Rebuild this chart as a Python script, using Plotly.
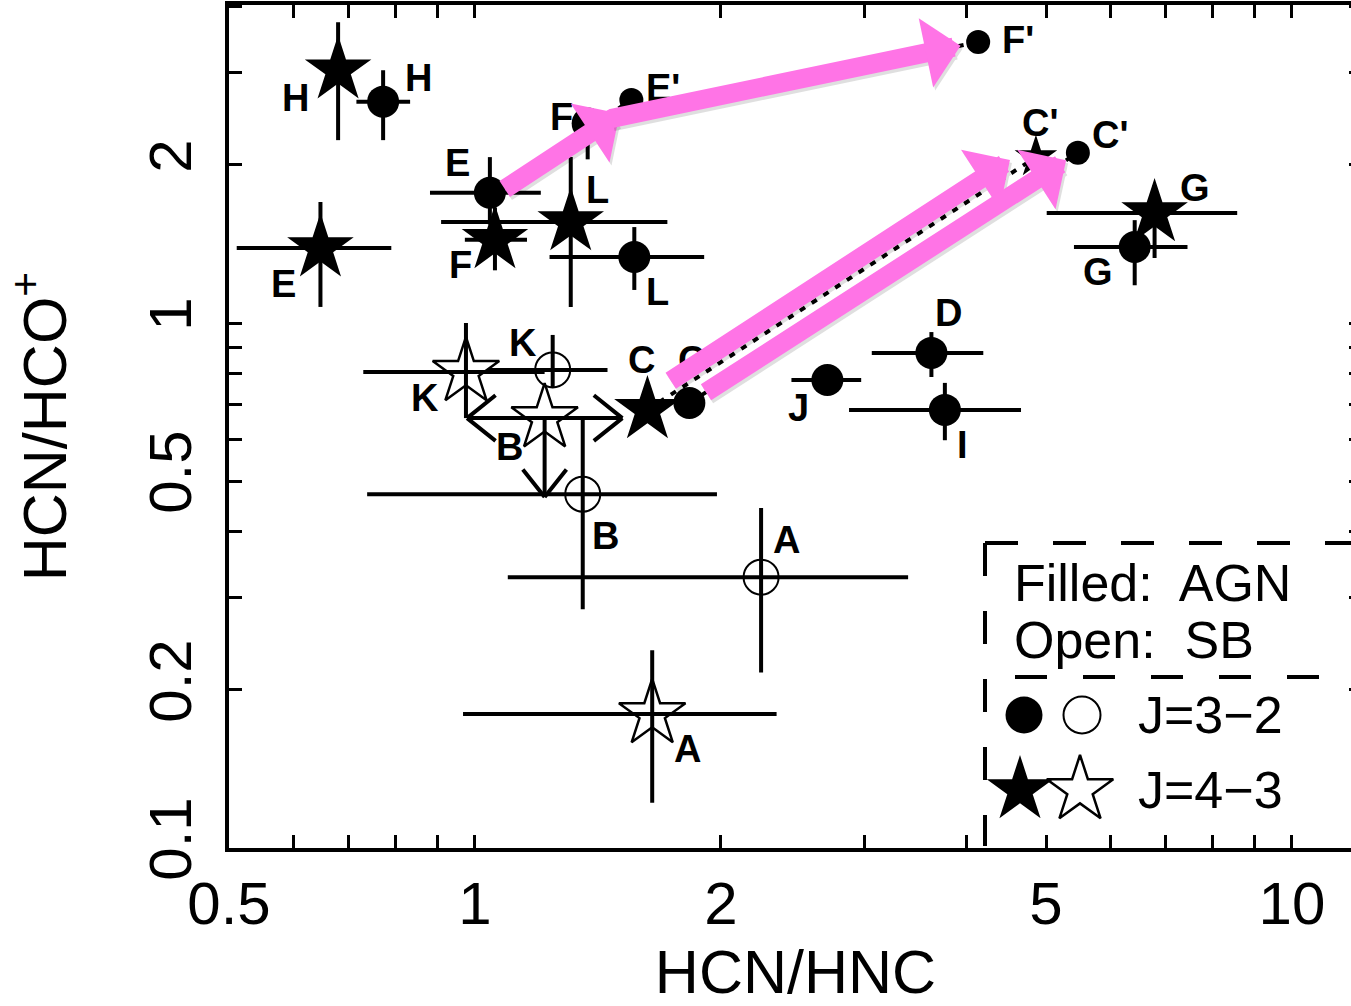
import math
import plotly.graph_objects as go

# ---------------- data ----------------
# HCN/HNC (x) and HCN/HCO+ (y) ratios, with lower/upper error-bar bounds.

# AGN, J=3-2 (filled circles)
agn32_name = ["H", "E", "F", "L", "G", "D", "J", "I", "C"]
agn32_x = [0.772, 1.043, 1.374, 1.567, 6.42, 3.62, 2.70, 3.76, 1.83]
agn32_y = [2.64, 1.77, 2.40, 1.336, 1.396, 0.877, 0.779, 0.683, 0.704]
agn32_xlo = [0.716, 0.881, 1.33, 1.234, 5.41, 3.06, 2.44, 2.87, 1.83]
agn32_xhi = [0.833, 1.204, 1.45, 1.908, 7.45, 4.19, 2.97, 4.66, 1.83]
agn32_ylo = [2.23, 1.54, 2.05, 1.156, 1.18, 0.789, 0.779, 0.598, 0.704]
agn32_yhi = [3.03, 2.07, 2.52, 1.523, 1.57, 0.961, 0.779, 0.769, 0.704]

# AGN, J=4-3 (filled stars)
agn43_name = ["H", "E", "F", "L", "G", "C"]
agn43_x = [0.680, 0.647, 1.058, 1.310, 6.79, 1.626]
agn43_y = [3.03, 1.389, 1.44, 1.557, 1.62, 0.683]
agn43_xlo = [0.680, 0.511, 0.972, 0.909, 5.01, 1.626]
agn43_xhi = [0.680, 0.790, 1.158, 1.720, 8.57, 1.626]
agn43_ylo = [2.23, 1.073, 1.26, 1.073, 1.33, 0.683]
agn43_yhi = [3.74, 1.70, 1.66, 2.07, 1.83, 0.683]

# Starburst, J=3-2 (open circles)
sb32_name = ["K", "B", "A"]
sb32_x = [1.245, 1.355, 2.24]
sb32_y = [0.814, 0.472, 0.328]
sb32_xlo = [1.037, 0.738, 1.097]
sb32_xhi = [1.453, 1.978, 3.39]
sb32_ylo = [0.755, 0.285, 0.216]
sb32_yhi = [0.949, 0.656, 0.444]

# Starburst, J=4-3 (open stars); B has limits only
sb43_name = ["K", "B", "A"]
sb43_x = [0.975, 1.217, 1.648]
sb43_y = [0.807, 0.659, 0.180]
sb43_xlo = [0.730, 1.217, 0.967]
sb43_xhi = [1.217, 1.217, 2.34]
sb43_ylo = [0.659, 0.659, 0.122]
sb43_yhi = [1.000, 0.659, 0.238]

# limit range for starburst B (J=4-3)
b43_xlim = [0.978, 1.515]
b43_ylim_low = 0.466

# shifted positions (primed)
prime_circ_name = ["E'", "F'", "C'"]
prime_circ_x = [1.554, 4.13, 5.47]
prime_circ_y = [2.66, 3.43, 2.11]
prime_star_name = ["C'"]
prime_star_x = [4.86]
prime_star_y = [2.07]

# ---------------- layout constants ----------------
FIG_W, FIG_H = 1366, 1006
ML, MT, MR, MB = 229, 5, 4, 158
PW = FIG_W - ML - MR
PH = FIG_H - MT - MB
X_LO = math.log10(0.5)
X_HI = X_LO + PW / 817.0
Y_LO = -1.0
Y_HI = Y_LO + PH / 525.0

FONT = "Liberation Sans, Arial, Helvetica, sans-serif"
PINK = "#FF74E6"
EB_W = 4


def px_to_paper(px, py):
    return (px - ML) / PW, (MT + PH - py) / PH


def err(vals, lo, hi):
    plus = [h - v for v, h in zip(vals, hi)]
    minus = [v - l for v, l in zip(vals, lo)]
    return plus, minus


def point_trace(x, y, xlo, xhi, ylo, yhi, symbol, size, lw):
    xp, xm = err(x, xlo, xhi)
    yp, ym = err(y, ylo, yhi)
    eb = dict(type="data", symmetric=False, color="black", thickness=EB_W, width=0)
    return go.Scatter(
        x=x, y=y, mode="markers",
        marker=dict(symbol=symbol, size=size, color="black", opacity=1,
                    line=dict(color="black", width=lw)),
        error_x=dict(array=xp, arrayminus=xm, **eb),
        error_y=dict(array=yp, arrayminus=ym, **eb),
        showlegend=False, hoverinfo="skip",
    )


fig = go.Figure()

# dotted connectors between original and shifted positions
pairs = [
    (agn32_x[1], agn32_y[1], prime_circ_x[0], prime_circ_y[0]),
    (agn32_x[2], agn32_y[2], prime_circ_x[1], prime_circ_y[1]),
    (agn43_x[5], agn43_y[5], prime_star_x[0], prime_star_y[0]),
    (agn32_x[8], agn32_y[8], prime_circ_x[2], prime_circ_y[2]),
]
for x0, y0, x1, y1 in pairs:
    fig.add_trace(go.Scatter(x=[x0, x1], y=[y0, y1], mode="lines",
                             line=dict(color="black", width=4, dash="6px,8px"),
                             showlegend=False, hoverinfo="skip"))

# starburst B (J=4-3) limit lines
fig.add_trace(go.Scatter(x=b43_xlim, y=[sb43_y[1]] * 2, mode="lines",
                         line=dict(color="black", width=EB_W),
                         showlegend=False, hoverinfo="skip"))
fig.add_trace(go.Scatter(x=[sb43_x[1]] * 2, y=[sb43_y[1], b43_ylim_low], mode="lines",
                         line=dict(color="black", width=EB_W),
                         showlegend=False, hoverinfo="skip"))

fig.add_trace(point_trace(sb43_x, sb43_y, sb43_xlo, sb43_xhi, sb43_ylo, sb43_yhi,
                          "star-open", 50, 2.5))
fig.add_trace(point_trace(sb32_x, sb32_y, sb32_xlo, sb32_xhi, sb32_ylo, sb32_yhi,
                          "circle-open", 35, 2))
fig.add_trace(point_trace(agn32_x, agn32_y, agn32_xlo, agn32_xhi, agn32_ylo, agn32_yhi,
                          "circle", 32, 0))
fig.add_trace(point_trace(agn43_x, agn43_y, agn43_xlo, agn43_xhi, agn43_ylo, agn43_yhi,
                          "star", 50, 0))
fig.add_trace(go.Scatter(x=prime_circ_x, y=prime_circ_y, mode="markers",
                         marker=dict(symbol="circle", size=24, color="black"),
                         showlegend=False, hoverinfo="skip"))
fig.add_trace(go.Scatter(x=prime_star_x, y=prime_star_y, mode="markers",
                         marker=dict(symbol="star", size=32, color="black"),
                         showlegend=False, hoverinfo="skip"))

# ---------------- point labels ----------------
label_shift = {
    ("agn32", "H"): (35, 24), ("agn32", "E"): (-32, 30), ("agn32", "F"): (-26, 6),
    ("agn32", "L"): (23, -35), ("agn32", "G"): (-37, -25), ("agn32", "D"): (17, 40),
    ("agn32", "J"): (-29, -28), ("agn32", "I"): (18, -35), ("agn32", "C"): (2, 43),
    ("agn43", "H"): (-43, -28), ("agn43", "E"): (-37, -36), ("agn43", "F"): (-34, -25),
    ("agn43", "L"): (27, 32), ("agn43", "G"): (40, 25), ("agn43", "C"): (-6, 50),
    ("sb32", "K"): (-30, 27), ("sb32", "B"): (23, -42), ("sb32", "A"): (25, 37),
    ("sb43", "K"): (-41, -26), ("sb43", "B"): (-35, -29), ("sb43", "A"): (35, -35),
    ("pc", "E'"): (32, 12), ("pc", "F'"): (40, 2), ("pc", "C'"): (32, 18),
    ("ps", "C'"): (4, 34),
}
groups = [
    ("agn32", agn32_name, agn32_x, agn32_y),
    ("agn43", agn43_name, agn43_x, agn43_y),
    ("sb32", sb32_name, sb32_x, sb32_y),
    ("sb43", sb43_name, sb43_x, sb43_y),
    ("pc", prime_circ_name, prime_circ_x, prime_circ_y),
    ("ps", prime_star_name, prime_star_x, prime_star_y),
]
annotations = []
for key, names, xs, ys in groups:
    for n, xv, yv in zip(names, xs, ys):
        dx, dy = label_shift[(key, n)]
        annotations.append(dict(
            x=math.log10(xv), y=math.log10(yv), xref="x", yref="y",
            text=n, showarrow=False, xshift=dx, yshift=dy,
            font=dict(family=FONT, size=38, color="black", weight="bold"),
        ))


# open chevron heads on the B (J=4-3) limit lines
def chevron(xv, yv, arms):
    out = []
    for ax, ay in arms:
        out.append(dict(x=math.log10(xv), y=math.log10(yv), xref="x", yref="y",
                        ax=ax, ay=ay, text="", showarrow=True, arrowhead=0,
                        arrowwidth=EB_W, arrowcolor="black"))
    return out


annotations += chevron(b43_xlim[1], sb43_y[1], [(-30, -24), (-30, 24)])
annotations += chevron(b43_xlim[0], sb43_y[1], [(30, -24), (30, 24)])
annotations += chevron(sb43_x[1], b43_ylim_low, [(-23, -29), (23, -29)])

# pink arrows: original -> shifted positions
arrow_specs = [
    # (x0, y0, x1, y1, startstandoff, standoff, xshift, yshift)
    (agn32_x[1], agn32_y[1], prime_circ_x[0], prime_circ_y[0], 16, 14, 0, -6),
    (agn32_x[2], agn32_y[2], prime_circ_x[1], prime_circ_y[1], 22, 18, 0, 0),
    (agn43_x[5], agn43_y[5], prime_star_x[0], prime_star_y[0], 26, 31, 0, 14),
    (agn32_x[8], agn32_y[8], prime_circ_x[2], prime_circ_y[2], 18, 14, 0, 0),
]
for x0, y0, x1, y1, s0, s1, xs, ys in arrow_specs:
    for col, sx, sy in (("rgba(0,0,0,0.12)", 2, -3), (PINK, 0, 0)):
        annotations.append(dict(
            x=math.log10(x1), y=math.log10(y1), ax=math.log10(x0), ay=math.log10(y0),
            xref="x", yref="y", axref="x", ayref="y", text="", showarrow=True,
            arrowhead=1, arrowsize=0.62, arrowwidth=19, arrowcolor=col,
            standoff=s1, startstandoff=s0, xshift=xs + sx, yshift=ys + sy,
        ))

# ---------------- legend box ----------------
lx0, ly0 = px_to_paper(985, 543)
_, lyb = px_to_paper(985, 846)
sx0, sy0 = px_to_paper(1015, 677)
sx1, _ = px_to_paper(1330, 677)
shapes = [
    dict(type="line", xref="paper", yref="paper", x0=lx0, x1=1.0, y0=ly0, y1=ly0,
         line=dict(color="black", width=4, dash="33px,35px")),
    dict(type="line", xref="paper", yref="paper", x0=lx0, x1=lx0, y0=ly0, y1=lyb,
         line=dict(color="black", width=4, dash="33px,35px")),
    dict(type="line", xref="paper", yref="paper", x0=sx0, x1=sx1, y0=sy0, y1=sy0,
         line=dict(color="black", width=4, dash="32px,36px")),
]

legend_text = [
    ("Filled:  AGN", 1012, 583),
    ("Open:  SB", 1012, 640),
    ("J=3\u22122", 1136, 715),
    ("J=4\u22123", 1136, 790),
]
for t, px, py in legend_text:
    fx, fy = px_to_paper(px, py)
    annotations.append(dict(x=fx, y=fy, xref="paper", yref="paper", text=t,
                            showarrow=False, xanchor="left", yanchor="middle",
                            font=dict(family=FONT, size=52, color="black")))

# legend symbols on a unit overlay axis
key_pos = [(1024, 715), (1082, 715), (1020, 790), (1080, 790)]
key_sym = ["circle", "circle-open", "star", "star-open"]
key_size = [37, 37, 50, 50]
key_lw = [0, 2, 0, 2.5]
for (px, py), sym, sz, lw in zip(key_pos, key_sym, key_size, key_lw):
    fx, fy = px_to_paper(px, py)
    fig.add_trace(go.Scatter(
        x=[fx], y=[fy], xaxis="x3", yaxis="y3", mode="markers",
        marker=dict(symbol=sym, size=sz, color="black", opacity=1,
                    line=dict(color="black", width=lw)),
        opacity=1, showlegend=False, hoverinfo="skip"))

tick_font = dict(family=FONT, size=60, color="black")
title_font = dict(family=FONT, size=61, color="black")
common = dict(showgrid=False, zeroline=False, ticks="inside", tickcolor="black",
              tickwidth=3)

fig.update_layout(
    width=FIG_W, height=FIG_H,
    margin=dict(l=ML, r=MR, t=MT, b=MB, pad=0),
    paper_bgcolor="white", plot_bgcolor="white",
    showlegend=False,
    xaxis=dict(type="log", range=[X_LO, X_HI], tickvals=[0.5, 1, 2, 5, 10],
               ticktext=["0.5", "1", "2", "5", "10"], ticklen=13,
               minor=dict(tickvals=[0.6, 0.7, 0.8, 0.9, 3, 4, 6, 7, 8, 9],
                          ticks="inside", ticklen=13, tickwidth=3, tickcolor="black"),
               showline=True, linewidth=4, linecolor="black", mirror="ticks",
               tickfont=tick_font, automargin=False,
               title=dict(text="HCN/HNC", font=title_font, standoff=24), **common),
    xaxis2=dict(type="log", range=[X_LO, X_HI], overlaying="x", anchor="y",
                tickvals=[1, 10], ticklen=27, showticklabels=False,
                showline=False, mirror="ticks", **common),
    yaxis=dict(type="log", range=[Y_LO, Y_HI], tickvals=[0.1, 0.2, 0.5, 1, 2],
               ticktext=["0.1", "0.2", "0.5", "1", "2"], ticklen=13, tickangle=-90,
               ticklabelstandoff=10,
               minor=dict(tickvals=[0.3, 0.4, 0.6, 0.7, 0.8, 0.9, 3, 4],
                          ticks="inside", ticklen=13, tickwidth=3, tickcolor="black"),
               showline=True, linewidth=4, linecolor="black", mirror="ticks",
               tickfont=tick_font, automargin=False,
               title=dict(text="HCN/HCO<sup>+</sup>", font=title_font, standoff=52),
               **common),
    yaxis2=dict(type="log", range=[Y_LO, Y_HI], overlaying="y", anchor="x",
                tickvals=[0.1, 1], ticklen=27, showticklabels=False,
                showline=False, mirror="ticks", **common),
    xaxis3=dict(range=[0, 1], overlaying="x", anchor="y3", visible=False),
    yaxis3=dict(range=[0, 1], overlaying="y", anchor="x3", visible=False),
    shapes=shapes,
    annotations=annotations,
)

fig.write_html("out.html", post_script=(
    "document.documentElement.style.overflow='hidden';"
    "document.body.style.overflow='hidden';"))
